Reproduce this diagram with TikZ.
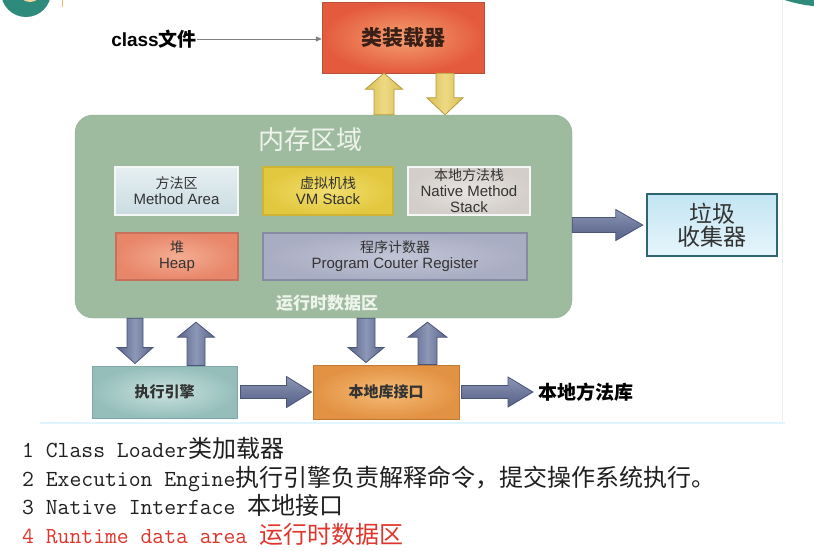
\documentclass[tikz,border=0pt]{standalone}
\usepackage{fontspec}
\setmainfont{Liberation Sans}
\newfontfamily\cjk{Noto Sans CJK SC}
\usetikzlibrary{calc,arrows.meta}

\newcommand{\zh}[1]{{\cjk\fontsize{14}{16}\selectfont #1}}
\newcommand{\zhnote}[1]{{\cjk\fontsize{24}{26}\selectfont #1}}

\tikzset{
  blockarrow/.style n args={3}{to path={
    ($(\tikztotarget)!#3!(\tikztostart)$) coordinate (ba)
    ($(\tikztostart)!#1!90:(\tikztotarget)$)
      -- ($(ba)!#1!90:(\tikztotarget)$) -- ($(ba)!#2!90:(\tikztotarget)$)
      -- (\tikztotarget)
      -- ($(ba)!#2!-90:(\tikztotarget)$) -- ($(ba)!#1!-90:(\tikztotarget)$)
      -- ($(\tikztostart)!#1!-90:(\tikztotarget)$) -- cycle}},
  areabox/.style={minimum height=48pt, line width=1.6pt, text=black!80,
    font=\fontsize{15}{16}\selectfont},
  yarrow/.style={draw=yellowline, line width=0.8pt, left color=yellowdark,
    right color=yellowdark, middle color=yellowlight},
  bluev/.style={draw=blueline, line width=0.8pt, left color=bluedark,
    right color=bluedark, middle color=bluelight},
  blueh/.style={draw=blueline, line width=0.8pt, top color=bluelight,
    bottom color=bluedark, middle color=bluemid},
  notetext/.style={anchor=base west, text=notegray,
    font=\ttfamily\fontsize{23}{26}\selectfont}
}

\begin{document}
\begin{tikzpicture}[x=1pt, y=-1pt, every node/.style={align=center, inner sep=0pt}]
  % Define colors
  \definecolor{loaderline}{HTML}{B8503A}
  \definecolor{loaderin}{HTML}{F4A070}
  \definecolor{loaderout}{HTML}{E45A3C}
  \definecolor{loadertext}{HTML}{3A1F16}
  \definecolor{memfill}{HTML}{9EBB9F}
  \definecolor{memline}{HTML}{8DAE90}
  \definecolor{memtitle}{HTML}{EEF3EC}
  \definecolor{methodin}{HTML}{E6EFF1}
  \definecolor{methodout}{HTML}{CADCE1}
  \definecolor{paleline}{HTML}{F4F7F6}
  \definecolor{vmin}{HTML}{F2DE70}
  \definecolor{vmout}{HTML}{E2C83E}
  \definecolor{vmline}{HTML}{CDB437}
  \definecolor{nativein}{HTML}{E8E5E2}
  \definecolor{nativeout}{HTML}{D3CECA}
  \definecolor{heapin}{HTML}{F4AD92}
  \definecolor{heapout}{HTML}{E8866A}
  \definecolor{heapline}{HTML}{C7705C}
  \definecolor{pcin}{HTML}{C2C5D6}
  \definecolor{pcout}{HTML}{A9ADC3}
  \definecolor{pcline}{HTML}{868BA4}
  \definecolor{gctop}{HTML}{C3E5F3}
  \definecolor{gcbottom}{HTML}{E6F5FB}
  \definecolor{gcline}{HTML}{2F6670}
  \definecolor{execin}{HTML}{C9E2DF}
  \definecolor{execout}{HTML}{95BEBB}
  \definecolor{execline}{HTML}{7FA7A5}
  \definecolor{niin}{HTML}{F5BC76}
  \definecolor{niout}{HTML}{E39243}
  \definecolor{niline}{HTML}{BF7A35}
  \definecolor{yellowdark}{HTML}{D9BE55}
  \definecolor{yellowlight}{HTML}{EEDA85}
  \definecolor{yellowline}{HTML}{B49A3C}
  \definecolor{bluedark}{HTML}{58638A}
  \definecolor{bluemid}{HTML}{6E799C}
  \definecolor{bluelight}{HTML}{8D97B6}
  \definecolor{blueline}{HTML}{4A5478}
  \definecolor{notegray}{HTML}{1F1F1F}
  \definecolor{notered}{HTML}{E0352B}
  \definecolor{logoteal}{HTML}{2E8B7B}
  \definecolor{logoorange}{HTML}{F4B860}

  % Page and screenshot edges
  \fill[white] (0,0) rectangle (814,550);
  \useasboundingbox (0,0) rectangle (814,550);
  \begin{scope}
    \clip (0,0) rectangle (814,550);
    \fill[logoteal] (26,-8) circle (25);
    \fill[logoorange!60!white] (30,-10) circle (12);
    \fill[logoteal] (830,-143) circle (150);
  \end{scope}
  \draw[logoorange, line width=1pt] (62,0) -- (62,7);
  \draw[black!7, line width=0.8pt] (782,0) -- (782,423);
  \draw[cyan!12, line width=2.5pt] (40,423) -- (785,423);

  % Class loader
  \node[draw=loaderline, inner color=loaderin, outer color=loaderout,
    minimum width=162pt, minimum height=71pt, text=loadertext,
    font=\cjk\bfseries\fontsize{21}{24}\selectfont] (loader) at (403,37.5) {类装载器};
  \node[anchor=east, font=\bfseries\fontsize{19}{20}\selectfont] (cls) at (197,39)
    {class{\cjk\bfseries\fontsize{19}{20}\selectfont 文件}};

  % Runtime data area
  \node[draw=memline, fill=memfill, rounded corners=18pt,
    minimum width=497pt, minimum height=203pt] (mem) at (323.5,216.5) {};
  \node[text=memtitle, font=\cjk\fontsize{26}{28}\selectfont] (memtitle) at (310,140) {内存区域};
  \node[text=memtitle, font=\cjk\bfseries\fontsize{17}{20}\selectfont] (memfoot) at (327,303) {运行时数据区};

  \node[areabox, draw=paleline, top color=methodin, bottom color=methodout,
    minimum width=123pt] (method) at (176.5,191) {\zh{方法区}\\Method Area};
  \node[areabox, draw=vmline, inner color=vmin, outer color=vmout,
    minimum width=130pt] (vm) at (328,191) {\zh{虚拟机栈}\\VM Stack};
  \node[areabox, draw=paleline, inner color=nativein, outer color=nativeout,
    minimum width=122pt] (native) at (469,191) {\zh{本地方法栈}\\Native Method\\Stack};
  \node[areabox, draw=heapline, inner color=heapin, outer color=heapout,
    minimum width=122pt, minimum height=47pt] (heap) at (177,256.5) {\zh{堆}\\Heap};
  \node[areabox, draw=pcline, inner color=pcin, outer color=pcout,
    minimum width=264pt, minimum height=47pt] (pc) at (395,256.5)
    {\zh{程序计数器}\\Program Couter Register};

  % Garbage collector
  \node[draw=gcline, line width=2.5pt, top color=gctop, bottom color=gcbottom,
    minimum width=130pt, minimum height=62pt, text=black!80,
    font=\cjk\fontsize{23}{23}\selectfont] (gc) at (712,225) {垃圾\\收集器};

  % Execution engine and native interface
  \node[draw=execline, line width=1pt, inner color=execin, outer color=execout,
    minimum width=145pt, minimum height=52pt, text=black!80,
    font=\cjk\bfseries\fontsize{15}{18}\selectfont] (exec) at (164.5,392) {执行引擎};
  \node[draw=niline, line width=1pt, inner color=niin, outer color=niout,
    minimum width=146pt, minimum height=54pt, text=black!80,
    font=\cjk\bfseries\fontsize{15}{18}\selectfont] (ni) at (386,392) {本地库接口};
  \node[anchor=west, font=\cjk\bfseries\fontsize{19}{20}\selectfont] (lib) at (538,392) {本地方法库};

  % Connect the components with arrows
  \draw[black!50, line width=0.8pt, -{Triangle[length=6pt,width=5pt]}]
    (cls.east) -- (cls.east -| loader.west);
  \draw[yarrow, blockarrow={10pt}{18.5pt}{16pt}]
    ([xshift=-19pt]loader.south |- mem.north) to ([xshift=-19pt]loader.south);
  \draw[yarrow, blockarrow={9pt}{18pt}{17pt}]
    ([xshift=42pt]loader.south) to ([xshift=42pt]loader.south |- mem.north);
  \draw[blueh, blockarrow={7.5pt}{15.5pt}{27pt}]
    (mem.east |- gc.west) to ([xshift=-3pt]gc.west);

  \draw[bluev, blockarrow={8pt}{18pt}{16pt}]
    ([xshift=-29.5pt]exec.north |- mem.south) to ([xshift=-29.5pt,yshift=2pt]exec.north);
  \draw[bluev, blockarrow={9pt}{18.5pt}{15pt}]
    ([xshift=31.5pt]exec.north) to ([xshift=31.5pt,yshift=-4pt]exec.north |- mem.south);
  \draw[bluev, blockarrow={9pt}{18pt}{15pt}]
    ([xshift=-20pt]ni.north |- mem.south) to ([xshift=-20pt,yshift=2pt]ni.north);
  \draw[bluev, blockarrow={9.5pt}{19.5pt}{15pt}]
    ([xshift=41.5pt]ni.north) to ([xshift=41.5pt,yshift=-4pt]ni.north |- mem.south);

  \draw[blueh, blockarrow={6.5pt}{15.5pt}{25pt}]
    ([xshift=3pt]exec.east) to ([xshift=-1pt]ni.west);
  \draw[blueh, blockarrow={6.5pt}{15pt}{25pt}]
    ([xshift=2pt]ni.east) to ([xshift=-5pt]lib.west);

  % Notes
  \node[notetext] (note1) at (22,457) {1 Class Loader\zhnote{类加载器}};
  \node[notetext] (note2) at (22,486) {2 Execution Engine\zhnote{执行引擎负责解释命令，提交操作系统执行。}};
  \node[notetext] (note3) at (22,514.5) {3 Native Interface \zhnote{本地接口}};
  \node[notetext, text=notered] (note4) at (22,543) {4 Runtime data area \zhnote{运行时数据区}};
\end{tikzpicture}
\end{document}
